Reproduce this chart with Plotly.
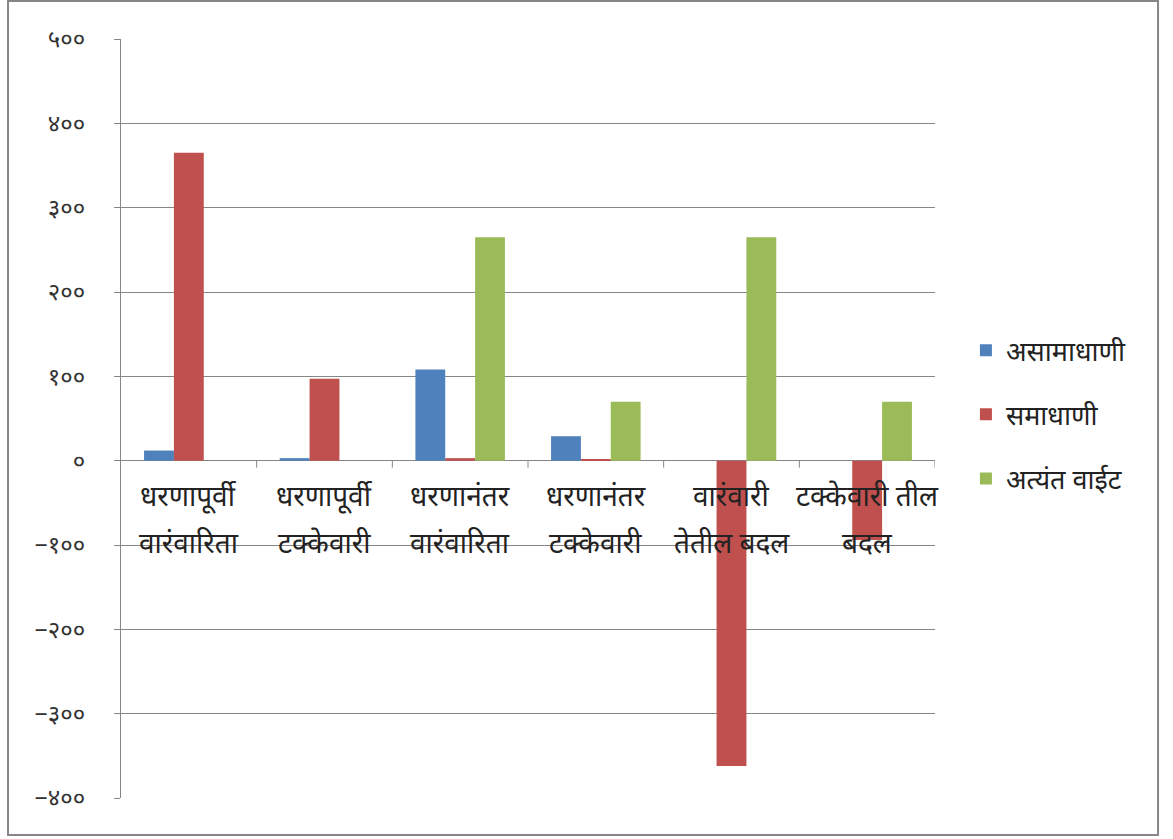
import plotly.graph_objects as go

categories = [
    "धरणापूर्वी\nवारंवारिता",
    "धरणापूर्वी\nटक्केवारी",
    "धरणानंतर\nवारंवारिता",
    "धरणानंतर\nटक्केवारी",
    "वारंवारी\nतेतील बदल",
    "टक्केवारी तील\nबदल",
]
series_names = ["असामाधाणी", "समाधाणी", "अत्यंत वाईट"]
asamadhani = [12, 3, 108, 29, 0, 0]
samadhani = [365, 97, 3, 2, -362, -94]
atyant_vait = [0, 0, 265, 70, 265, 70]
colors = ["#4F81BD", "#C0504D", "#9BBB59"]

tick_vals = [-400, -300, -200, -100, 0, 100, 200, 300, 400, 500]
tick_text = ["−४००", "−३००", "−२००", "−१००", "०", "१००", "२००", "३००", "४००", "५००"]

FONT = "Noto Sans Devanagari, Lohit Devanagari, Mangal, Noto Sans, sans-serif"

fig = go.Figure()
for name, vals, col in zip(series_names, [asamadhani, samadhani, atyant_vait], colors):
    fig.add_trace(go.Bar(x=list(range(len(categories))), y=vals, name=name,
                         legendgroup=name,
                         marker=dict(color=col, line=dict(width=0))))

annotations = []
for i, cat in enumerate(categories):
    lines = cat.split("\n")
    for j, ln in enumerate(lines):
        annotations.append(dict(x=i, y=0, xref="x", yref="y", text=ln, showarrow=False,
                                yanchor="middle", xanchor="center", yshift=-38 - 47 * j,
                                font=dict(size=28, color="#222222", family=FONT)))

shapes = []
for i in range(len(categories)):
    shapes.append(dict(type="line", xref="x", yref="y", x0=i + 0.5, x1=i + 0.5,
                       ysizemode="pixel", yanchor=0, y0=0, y1=-7,
                       line=dict(color="#868686", width=1)))
# outer frame
shapes.append(dict(type="rect", xref="paper", yref="paper", x0=-0.1388, x1=1.274,
                   y0=-0.0487, y1=1.050, line=dict(color="#868686", width=2),
                   fillcolor="rgba(0,0,0,0)", layer="below"))

fig.update_layout(
    width=1173, height=839,
    margin=dict(l=121, r=238, t=39, b=41),
    paper_bgcolor="white", plot_bgcolor="white",
    barmode="group", bargap=0.34, bargroupgap=0,
    font=dict(family=FONT, color="#333333"),
    showlegend=True,
    legend=dict(x=1.038, y=0.505, xanchor="left", yanchor="middle",
                font=dict(size=27, color="#222222", family=FONT),
                tracegroupgap=26, itemwidth=30),
    annotations=annotations,
    shapes=shapes,
    xaxis=dict(range=[-0.5, len(categories) - 0.5], showticklabels=False, showgrid=False,
               zeroline=False, showline=False, ticks=""),
    yaxis=dict(range=[-400, 500], tickvals=tick_vals, ticktext=tick_text,
               showgrid=True, gridcolor="#868686", gridwidth=1,
               zeroline=True, zerolinecolor="#868686", zerolinewidth=1,
               showline=True, linecolor="#868686", linewidth=1,
               ticks="outside", ticklen=6, tickcolor="#868686",
               ticklabelstandoff=24,
               tickfont=dict(size=24, color="#333333", family=FONT)),
)

fig.write_html("out.html", config={"displayModeBar": False},
               post_script="document.body.style.margin='0';document.body.style.overflow='hidden';")
